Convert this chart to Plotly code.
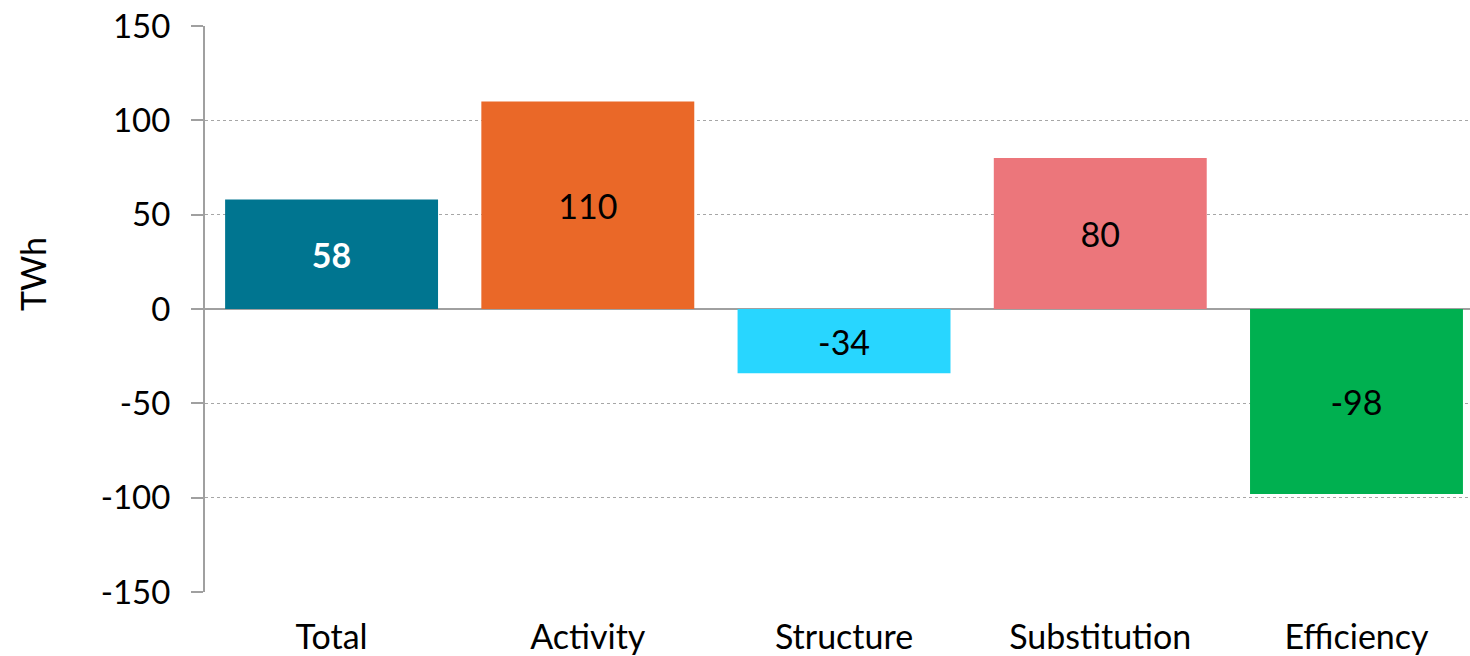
import plotly.graph_objects as go

categories = ["Total", "Activity", "Structure", "Substitution", "Efficiency"]
values = [58, 110, -34, 80, -98]
bar_colors = ["#007590", "#EA6828", "#28D6FF", "#EC767B", "#00B050"]
label_colors = ["#FFFFFF", "#000000", "#000000", "#000000", "#000000"]
label_bold = [True, False, False, False, False]
y_ticks = [-150, -100, -50, 0, 50, 100, 150]

FONT = "Lato"
texts = [f"<b>{v}</b>" if b else f"{v}" for v, b in zip(values, label_bold)]

fig = go.Figure(
    go.Bar(
        x=categories,
        y=values,
        marker=dict(color=bar_colors, line=dict(width=0)),
        text=texts,
        textposition="inside",
        insidetextanchor="middle",
        textangle=0,
        textfont=dict(family=FONT, size=34, color=label_colors),
        constraintext="none",
        width=0.831,
        hoverinfo="skip",
    )
)

fig.update_layout(
    width=1470,
    height=656,
    margin=dict(l=205, r=0, t=26, b=64),
    paper_bgcolor="white",
    plot_bgcolor="white",
    showlegend=False,
    font=dict(family=FONT, size=34, color="#000000"),
    uniformtext=dict(mode=False),
)

fig.update_xaxes(
    type="category",
    range=[-0.494, 4.443],
    showgrid=False,
    zeroline=False,
    showline=False,
    ticks="",
    tickfont=dict(family=FONT, size=34, color="#000000"),
    ticklabelstandoff=22,
)

fig.update_yaxes(
    range=[-150, 150],
    tickvals=y_ticks,
    ticktext=[str(t) for t in y_ticks],
    showgrid=True,
    gridcolor="#A6A6A6",
    gridwidth=1,
    griddash="dot",
    zeroline=True,
    zerolinecolor="#A0A0A0",
    zerolinewidth=2,
    showline=True,
    linecolor="#A0A0A0",
    linewidth=2,
    ticks="outside",
    ticklen=12,
    tickwidth=2,
    tickcolor="#A0A0A0",
    tickfont=dict(family=FONT, size=33, color="#000000"),
    ticklabelstandoff=14,
)

fig.add_annotation(
    text="TWh",
    textangle=-90,
    x=(32 - 205) / 1265,
    y=(592 - 274) / 566,
    xref="x domain",
    yref="y domain",
    xanchor="center",
    yanchor="middle",
    showarrow=False,
    font=dict(family=FONT, size=34, color="#000000"),
)

fig.write_html("out.html")
